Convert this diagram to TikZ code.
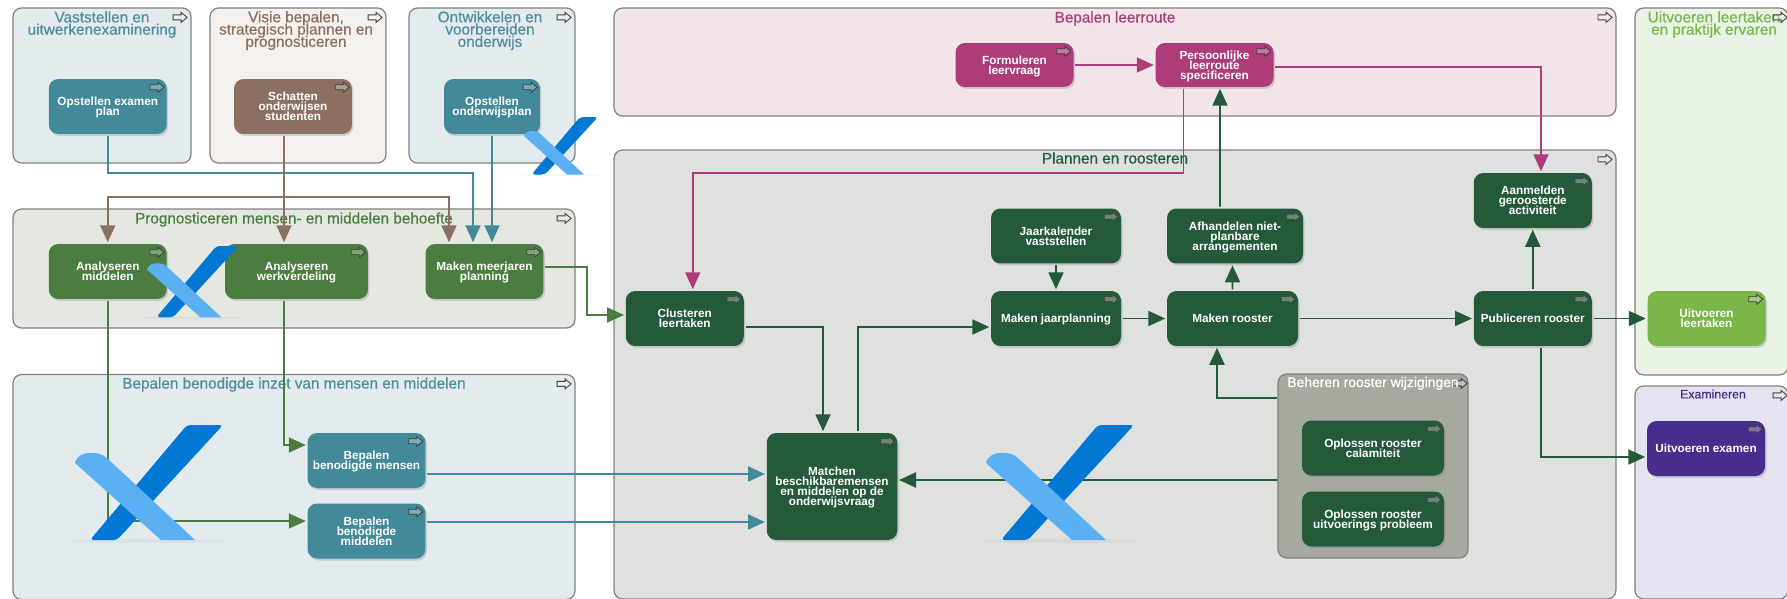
\documentclass[tikz,border=0pt]{standalone}
\usepackage{fontspec}
\setmainfont{Liberation Sans}
\newfontfamily\titlefont[FakeBold=0.6]{Liberation Sans}
\usetikzlibrary{arrows.meta, shadows}
\newcommand{\tightlines}{\lineskiplimit=-20pt\relax}
\definecolor{tealbox}{RGB}{66, 138, 153}
\definecolor{tealtext}{RGB}{80, 142, 156}
\definecolor{brownbox}{RGB}{139, 112, 98}
\definecolor{greenbox}{RGB}{76, 125, 64}
\definecolor{deepgreen}{RGB}{36, 90, 58}
\definecolor{pinkbox}{RGB}{174, 60, 120}
\definecolor{purplebox}{RGB}{72, 46, 140}
\definecolor{limebox}{RGB}{122, 182, 72}
\definecolor{logodark}{RGB}{0, 120, 212}
\definecolor{logolight}{RGB}{90, 176, 242}
\definecolor{tealzone}{RGB}{228, 235, 238}
\definecolor{brownzone}{RGB}{245, 241, 239}
\definecolor{greenzone}{RGB}{228, 232, 225}
\definecolor{pinkzone}{RGB}{242, 229, 233}
\definecolor{deepzone}{RGB}{222, 225, 221}
\definecolor{limezone}{RGB}{234, 244, 230}
\definecolor{purplezone}{RGB}{230, 227, 241}
\definecolor{greyzone}{RGB}{165, 169, 159}
\tikzset{
  zonebox/.style={rectangle, draw=black!50, fill=#1, rounded corners=0.17cm, line width=0.7pt},
  zonetitle/.style={font=\titlefont\fontsize{8.7}{7}\selectfont\tightlines, align=center, text=#1, inner sep=0pt, text depth=0pt},
  boxnode/.style={rectangle, fill=#1, rounded corners=0.19cm, minimum width=2.36cm, minimum height=1.1cm,
    outer sep=1pt, inner sep=0pt, align=center, text=white, font=\fontsize{6.7}{5.7}\selectfont\bfseries\tightlines, text depth=0pt,
    drop shadow={shadow xshift=0.03cm, shadow yshift=-0.04cm, opacity=0.3}},
  flow/.style={draw=#1, line width=1.1pt, -{Triangle[length=0.34cm, width=0.3cm]}},
  arrowmark/.pic={
    \draw[draw=black!75, fill=white, fill opacity=0.3, line width=0.5pt]
      (-7,-2.5) -- (1,-2.5) -- (1,-5) -- (7,0) -- (1,5) -- (1,2.5) -- (-7,2.5) -- cycle;
  },
  logomark/.pic={
    \fill[black, opacity=0.04] (74,116) ellipse (80 and 2);
    \fill[logodark, rounded corners=2pt] (112,0) -- (148,0) -- (42,115) -- (15,115) -- cycle;
    \fill[logolight] (0,38) .. controls (2,30) and (10,27) .. (19,28) .. controls (26,28) and (30,31) .. (34,35)
      -- (120,115) -- (86,115) -- cycle;
  },
}
\begin{document}
\begin{tikzpicture}[x=0.02cm, y=-0.02cm]
\useasboundingbox (0,0) rectangle (1787,598);
\fill[white] (0,0) rectangle (1787,598);

\node[zonebox=tealzone, minimum width=3.56cm, minimum height=3.1cm] (vaststellen) at (102,85.5) {};
\node[zonebox=brownzone, minimum width=3.52cm, minimum height=3.1cm] (visie) at (298,85.5) {};
\node[zonebox=tealzone, minimum width=3.32cm, minimum height=3.1cm] (ontwikkelen) at (492,85.5) {};
\node[zonebox=greenzone, minimum width=11.24cm, minimum height=2.38cm] (prognose) at (294,268.5) {};
\node[zonebox=tealzone, minimum width=11.24cm, minimum height=4.5cm] (inzet) at (294,487) {};
\node[zonebox=pinkzone, minimum width=20.04cm, minimum height=2.16cm] (leerroute) at (1115,62) {};
\node[zonebox=deepzone, minimum width=20.04cm, minimum height=8.98cm] (plannen) at (1115,374.5) {};
\node[zonebox=limezone, minimum width=3.06cm, minimum height=7.34cm] (uitvoeren) at (1711.5,191.5) {};
\node[zonebox=purplezone, minimum width=3.06cm, minimum height=4.26cm] (examineren) at (1711.5,492.5) {};
\node[zonebox=greyzone, minimum width=3.8cm, minimum height=3.68cm] (beheren) at (1373,466) {};

\node[zonetitle=tealtext] (titel1) at (102,23) {Vaststellen en\\uitwerkenexaminering};
\node[zonetitle=brownbox] (titel2) at (296,29) {Visie bepalen,\\strategisch plannen en\\prognosticeren};
\node[zonetitle=tealtext] (titel3) at (490,29) {Ontwikkelen en\\voorbereiden\\onderwijs};
\node[zonetitle=greenbox] (titel4) at (294,218) {Prognosticeren mensen- en middelen behoefte};
\node[zonetitle=tealtext] (titel5) at (294,383) {Bepalen benodigde inzet van mensen en middelen};
\node[zonetitle=pinkbox] (titel6) at (1115,17) {Bepalen leerroute};
\node[zonetitle=deepgreen] (titel7) at (1115,158) {Plannen en roosteren};
\node[zonetitle=limebox] (titel8) at (1714,23) {Uitvoeren leertaken\\en praktijk ervaren};
\node[zonetitle=purplebox, font=\titlefont\fontsize{7}{7}\selectfont] (titel9) at (1713,394) {Examineren};

\node[boxnode=tealbox] (examenplan) at (107.75,106.5) {Opstellen examen\\plan};
\node[boxnode=brownbox] (schatten) at (293,106.5) {Schatten\\onderwijsen\\studenten};
\node[boxnode=tealbox, minimum width=1.92cm] (onderwijsplan) at (492,106.5) {Opstellen\\onderwijsplan};
\node[boxnode=greenbox] (analysemiddelen) at (107.75,271.5) {Analyseren\\middelen};
\node[boxnode=greenbox, minimum width=2.86cm] (werkverdeling) at (296.5,271.5) {Analyseren\\werkverdeling};
\node[boxnode=greenbox] (meerjaren) at (484.5,271.5) {Maken meerjaren\\planning};
\node[boxnode=tealbox] (mensen) at (366.5,460.5) {Bepalen\\benodigde mensen};
\node[boxnode=tealbox] (middelen) at (366.5,531) {Bepalen\\benodigde\\middelen};
\node[boxnode=pinkbox, minimum height=0.88cm] (leervraag) at (1014.5,65) {Formuleren\\leervraag};
\node[boxnode=pinkbox, minimum height=0.88cm] (persoonlijk) at (1214.5,65) {Persoonlijke\\leerroute\\specificeren};
\node[boxnode=deepgreen] (clusteren) at (684.75,318.5) {Clusteren\\leertaken};
\node[boxnode=deepgreen, minimum width=2.6cm] (jaarkalender) at (1056,236) {Jaarkalender\\vaststellen};
\node[boxnode=deepgreen, minimum width=2.6cm] (jaarplanning) at (1056,318.5) {Maken jaarplanning};
\node[boxnode=deepgreen, minimum width=2.72cm] (afhandelen) at (1235,236) {Afhandelen niet-\\planbare\\arrangementen};
\node[boxnode=deepgreen, minimum width=2.62cm] (rooster) at (1232.5,318.5) {Maken rooster};
\node[boxnode=deepgreen] (aanmelden) at (1532.75,200.5) {Aanmelden\\geroosterde\\activiteit};
\node[boxnode=deepgreen] (publiceren) at (1532.75,318.5) {Publiceren rooster};
\node[boxnode=limebox] (leertaken) at (1706.5,318.5) {Uitvoeren\\leertaken};
\node[boxnode=purplebox] (examen) at (1706,448.5) {Uitvoeren examen};
\node[boxnode=deepgreen, minimum width=2.61cm, minimum height=2.14cm] (matchen) at (832,486.5) {Matchen\\beschikbaremensen\\en middelen op de\\onderwijsvraag};
\node[boxnode=deepgreen, minimum width=2.84cm] (calamiteit) at (1373,448) {Oplossen rooster\\calamiteit};
\node[boxnode=deepgreen, minimum width=2.84cm] (probleem) at (1373,519) {Oplossen rooster\\uitvoerings probleem};

\foreach \n in {vaststellen, visie, ontwikkelen, prognose, inzet, leerroute, plannen}
  \pic at ([xshift=-0.23cm, yshift=-0.2cm]\n.north east) {arrowmark};
\foreach \n in {uitvoeren, examineren, beheren}
  \pic at ([xshift=-0.17cm, yshift=-0.2cm]\n.north east) {arrowmark};
\foreach \n in {examenplan, schatten, onderwijsplan, analysemiddelen, werkverdeling, meerjaren, mensen, middelen,
    leervraag, persoonlijk, clusteren, jaarkalender, jaarplanning, afhandelen, rooster, aanmelden, publiceren,
    leertaken, examen, matchen, calamiteit, probleem}
  \pic at ([xshift=-0.23cm, yshift=-0.2cm]\n.north east) {arrowmark};
\node[zonetitle=white, font=\titlefont\fontsize{7.9}{7}\selectfont] (titel10) at (1373,382) {Beheren rooster wijzigingen};

\draw[flow=tealbox] (examenplan.south) -- ++(0,37) -| ([xshift=-0.23cm]meerjaren.north);
\draw[flow=tealbox] (onderwijsplan.south) -- ([xshift=0.15cm]meerjaren.north);
\draw[flow=brownbox] ([xshift=-0.18cm]schatten.south) -- ([xshift=-0.25cm]werkverdeling.north);
\draw[flow=brownbox] ([xshift=-0.18cm]schatten.south) -- ++(0,61) -| (analysemiddelen.north);
\draw[flow=brownbox] ([xshift=-0.18cm]schatten.south) -- ++(0,61) -| ([xshift=-0.71cm]meerjaren.north);
\draw[flow=greenbox] (analysemiddelen.south) |- ([yshift=0.2cm]middelen.west);
\draw[flow=greenbox] ([xshift=-0.25cm]werkverdeling.south) |- ([yshift=0.31cm]mensen.west);
\draw[flow=greenbox] ([yshift=0.09cm]meerjaren.east) -- ++(42,0) |- ([yshift=0.07cm]clusteren.west);
\draw[flow=tealbox] ([yshift=-0.27cm]mensen.east) -- ([yshift=0.25cm]matchen.west);
\draw[flow=tealbox] ([yshift=0.18cm]middelen.east) -- ([yshift=-0.71cm]matchen.west);
\draw[flow=deepgreen] ([yshift=-0.17cm]clusteren.east) -| ([xshift=-0.18cm]matchen.north);
\draw[flow=deepgreen] ([xshift=0.52cm]matchen.north) |- ([yshift=-0.17cm]jaarplanning.west);
\draw[flow=deepgreen] (jaarkalender.south) -- (jaarplanning.north);
\draw[flow=deepgreen] (jaarplanning.east) -- (rooster.west);
\draw[flow=deepgreen] (rooster.east) -- (publiceren.west);
\draw[flow=deepgreen] (publiceren.east) -- (leertaken.west);
\draw[flow=deepgreen] (rooster.north) -- ([xshift=-0.05cm]afhandelen.south);
\draw[flow=deepgreen] ([xshift=-0.3cm]afhandelen.north) -- ([xshift=0.11cm]persoonlijk.south);
\draw[flow=deepgreen] (publiceren.north) -- (aanmelden.south);
\draw[flow=pinkbox] (leervraag.east) -- (persoonlijk.west);
\draw[flow=pinkbox] ([yshift=-0.04cm]persoonlijk.east) -| ([xshift=0.165cm]aanmelden.north);
\draw[flow=pinkbox] ([xshift=-0.62cm]persoonlijk.south) -- ++(0,84) -| ([xshift=0.16cm]clusteren.north);
\draw[flow=deepgreen] ([yshift=1.36cm]beheren.west) -| ([xshift=-0.31cm]rooster.south);
\draw[flow=deepgreen] ([yshift=-0.28cm]beheren.west) -- ([yshift=0.13cm]matchen.east);
\draw[flow=deepgreen] ([xshift=0.165cm]publiceren.south) |- ([yshift=-0.17cm]examen.west);

\pic at (75,425) {logomark};
\pic at (986,425) {logomark};
\pic[scale=0.62] at (147,246) {logomark};
\pic[scale=0.5] at (524,117) {logomark};
\end{tikzpicture}
\end{document}
